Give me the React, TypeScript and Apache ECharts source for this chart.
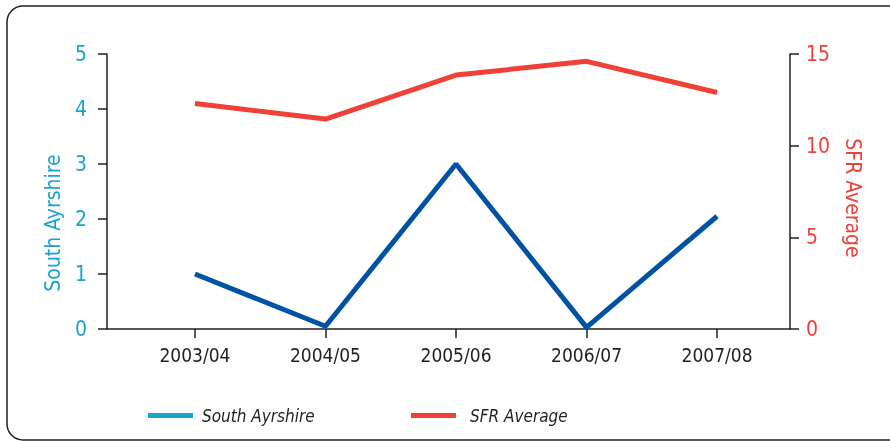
import React, { useEffect, useRef } from "react";
import * as echarts from "echarts";

const categories = ["2003/04", "2004/05", "2005/06", "2006/07", "2007/08"];
const southAyrshire = [1.0, 0.05, 3.0, 0.03, 2.05];
const sfrAverage = [12.3, 11.45, 13.85, 14.6, 12.9];
const leftTicks = [0, 1, 2, 3, 4, 5];
const rightTicks = [0, 5, 10, 15];

const FONT = "'Liberation Sans Narrow', 'DejaVu Sans Condensed', sans-serif";
const CYAN = "#1aa3cc";
const BLUE = "#0053a4";
const RED = "#ef4136";
const INK = "#231f20";

export default function App() {
  const ref = useRef<HTMLDivElement>(null);
  useEffect(() => {
    if (!ref.current) return;
    const chart = echarts.init(ref.current, undefined, { renderer: "svg" });
    const idx = categories.map((_, i) => i);
    chart.setOption({
      animation: false,
      grid: { left: 107, right: 100, top: 54, bottom: 112 },
      graphic: [
        {
          type: "rect",
          shape: { x: 7, y: 6, width: 900, height: 434, r: 16 },
          style: { fill: "none", stroke: INK, lineWidth: 1.5 },
          silent: true,
        },
        {
          type: "text",
          x: 53,
          y: 223,
          rotation: Math.PI / 2,
          style: {
            text: "South Ayrshire",
            fill: CYAN,
            font: `21px ${FONT}`,
            align: "center",
            verticalAlign: "middle",
          },
        },
        {
          type: "text",
          x: 853,
          y: 198,
          rotation: -Math.PI / 2,
          style: {
            text: "SFR Average",
            fill: RED,
            font: `21px ${FONT}`,
            align: "center",
            verticalAlign: "middle",
          },
        },
      ],
      legend: [
        {
          left: 143,
          top: 402,
          icon: "rect",
          itemWidth: 45,
          itemHeight: 5,
          data: [{ name: "South Ayrshire", itemStyle: { color: CYAN } }],
          textStyle: { fontFamily: FONT, fontStyle: "italic", fontSize: 17, color: INK, padding: [0, 0, 0, 4] },
        },
        {
          left: 406,
          top: 402,
          icon: "rect",
          itemWidth: 45,
          itemHeight: 5,
          data: [{ name: "SFR Average", itemStyle: { color: RED } }],
          textStyle: { fontFamily: FONT, fontStyle: "italic", fontSize: 17, color: INK, padding: [0, 0, 0, 9] },
        },
      ],
      xAxis: {
        type: "value",
        min: -0.674,
        max: 4.559,
        axisLine: { show: true, lineStyle: { color: INK, width: 1.5 } },
        axisTick: { show: true, length: 9, customValues: idx, lineStyle: { color: INK, width: 1.5 } },
        axisLabel: {
          customValues: idx,
          formatter: (v: number) => categories[Math.round(v)] ?? "",
          color: INK,
          fontFamily: FONT,
          fontSize: 19,
          margin: 16,
        },
        splitLine: { show: false },
      },
      yAxis: [
        {
          type: "value",
          min: 0,
          max: 5,
          interval: 1,
          position: "left",
          axisLine: { show: true, onZero: false, lineStyle: { color: INK, width: 1.5 } },
          axisTick: { show: true, length: 9, lineStyle: { color: INK, width: 1.5 } },
          axisLabel: {
            color: CYAN,
            fontFamily: FONT,
            fontSize: 21,
            margin: 20,
            customValues: leftTicks,
          },
          splitLine: { show: false },
        },
        {
          type: "value",
          min: 0,
          max: 15,
          interval: 5,
          position: "right",
          axisLine: { show: true, onZero: false, lineStyle: { color: INK, width: 1.5 } },
          axisTick: { show: true, length: 9, lineStyle: { color: INK, width: 1.5 } },
          axisLabel: {
            color: RED,
            fontFamily: FONT,
            fontSize: 21,
            margin: 16,
            customValues: rightTicks,
          },
          splitLine: { show: false },
        },
      ],
      series: [
        {
          name: "South Ayrshire",
          type: "line",
          yAxisIndex: 0,
          data: southAyrshire.map((v, i) => [i, v]),
          symbol: "none",
          color: BLUE,
          lineStyle: { color: BLUE, width: 5 },
        },
        {
          name: "SFR Average",
          type: "line",
          yAxisIndex: 1,
          data: sfrAverage.map((v, i) => [i, v]),
          symbol: "none",
          color: RED,
          lineStyle: { color: RED, width: 5 },
        },
      ],
    });
    return () => chart.dispose();
  }, []);
  return <div ref={ref} style={{ width: 890, height: 441, position: "fixed", left: 0, top: 0 }} />;
}
